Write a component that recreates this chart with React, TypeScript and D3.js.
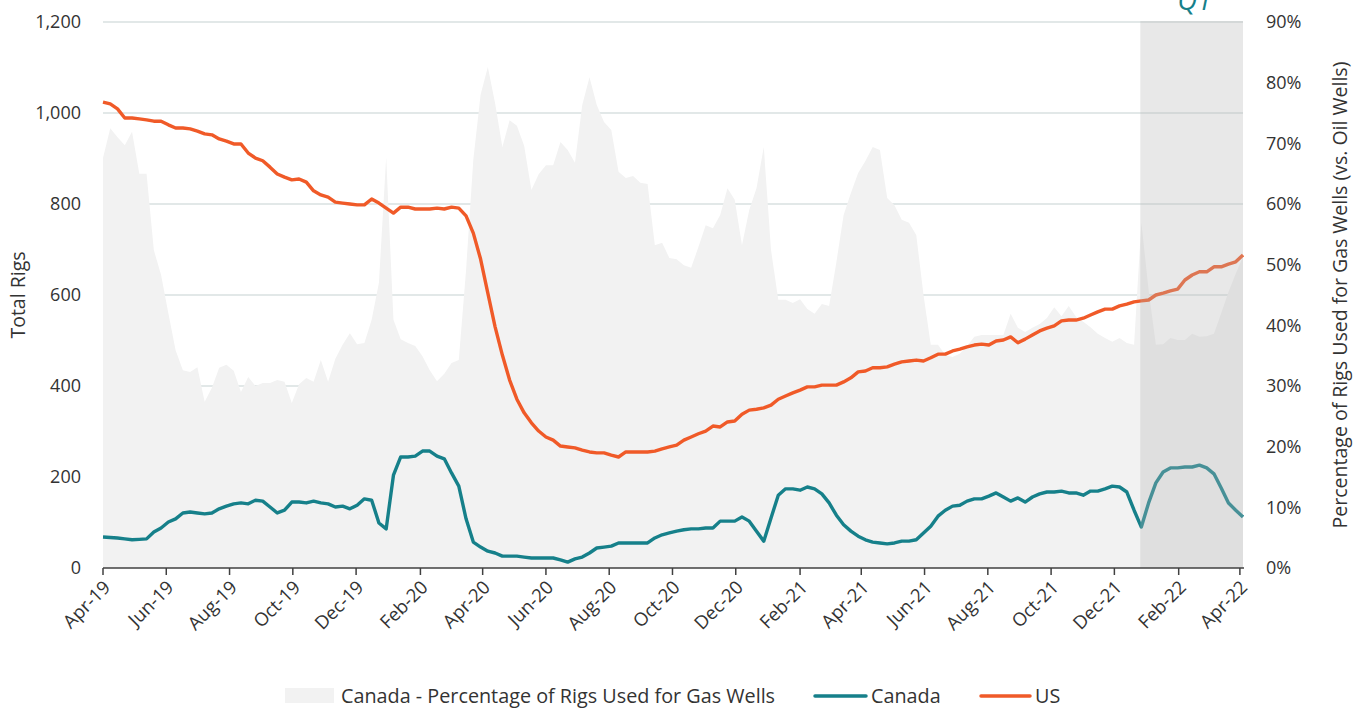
import React from "react";
import * as d3 from "d3";

const START_DATE = "2019-04-01";

const usRigs = [
  1024, 1020, 1009, 989, 989, 987, 985, 982, 982, 974, 967, 967, 965, 960, 954, 952, 943, 938, 932, 932,
  912, 901, 895, 881, 866, 859, 853, 855, 848, 829, 820, 815, 804, 802, 800, 798, 798, 811, 802, 791,
  780, 793, 793, 789, 789, 789, 791, 789, 793, 791, 774, 736, 679, 604, 530, 468, 413, 371, 341, 319,
  301, 288, 281, 268, 266, 264, 259, 255, 253, 253, 248, 244, 255, 255, 255, 255, 257, 262, 266, 270,
  281, 288, 295, 301, 312, 310, 321, 323, 338, 347, 349, 352, 358, 371, 378, 385, 391, 398, 398, 402,
  402, 402, 409, 418, 431, 433, 440, 440, 442, 448, 453, 455, 457, 455, 462, 470, 470, 477, 481, 486,
  490, 492, 490, 499, 501, 508, 495, 503, 512, 521, 527, 532, 543, 545, 545, 549, 556, 563, 569, 569,
  576, 580, 585, 587, 589, 600, 604, 609, 613, 633, 644, 651, 651, 662, 662, 668, 673, 688,
];

const canadaRigs = [
  68, 67, 66, 64, 62, 63, 64, 79, 88, 101, 108, 121, 123, 121, 119, 121, 130, 136, 141, 143,
  141, 149, 147, 134, 121, 127, 145, 145, 143, 147, 143, 141, 134, 136, 130, 138, 152, 149, 99, 86,
  204, 244, 244, 246, 257, 257, 246, 240, 209, 180, 108, 57, 46, 37, 33, 26, 26, 26, 24, 22,
  22, 22, 22, 18, 13, 20, 24, 33, 44, 46, 48, 55, 55, 55, 55, 55, 66, 73, 77, 81,
  84, 86, 86, 88, 88, 103, 103, 103, 112, 103, 81, 59, 110, 160, 174, 174, 171, 178, 174, 163,
  143, 116, 95, 81, 70, 62, 57, 55, 53, 55, 59, 59, 62, 77, 92, 114, 127, 136, 138, 147,
  152, 152, 158, 165, 156, 147, 154, 145, 156, 163, 167, 167, 169, 165, 165, 160, 169, 169, 174, 180,
  178, 167, 127, 90, 143, 187, 211, 220, 220, 222, 222, 226, 220, 207, 176, 143, 127, 112,
];

const canadaGasPct = [
  67.6, 72.5, 71.0, 69.7, 71.9, 65.0, 65.0, 52.4, 48.3, 42.0, 35.9, 32.6, 32.3, 33.1, 27.4, 29.7, 33.0, 33.5, 32.5, 29.0,
  31.5, 30.0, 30.5, 30.5, 31.0, 30.7, 27.2, 30.3, 31.3, 30.7, 34.3, 30.7, 34.5, 36.8, 38.7, 36.9, 37.1, 40.9, 47.0, 67.7,
  40.9, 37.7, 37.1, 36.6, 34.9, 32.6, 30.8, 32.0, 33.8, 34.3, 49.1, 67.3, 78.0, 82.6, 76.6, 69.4, 73.8, 72.9, 69.6, 62.3,
  64.9, 66.4, 66.4, 70.2, 68.9, 66.8, 76.3, 80.9, 76.3, 73.5, 72.2, 65.3, 64.3, 64.6, 63.5, 63.3, 53.2, 53.6, 51.1, 50.9,
  49.9, 49.5, 52.9, 56.5, 56.0, 58.2, 62.6, 60.7, 53.2, 59.0, 62.6, 69.4, 52.4, 44.2, 44.2, 43.7, 44.3, 42.7, 41.9, 43.5,
  43.2, 50.4, 58.2, 61.8, 65.1, 67.1, 69.4, 68.9, 61.0, 59.8, 57.4, 56.9, 54.9, 45.0, 36.8, 36.8, 35.1, 34.8, 35.3, 36.6,
  38.1, 38.4, 38.4, 38.4, 38.4, 41.9, 39.6, 38.9, 39.6, 40.2, 41.2, 43.0, 41.5, 43.2, 41.4, 40.6, 39.7, 38.6, 37.9, 37.3,
  37.9, 37.1, 36.8, 56.9, 45.8, 36.8, 36.9, 37.9, 37.6, 37.6, 38.6, 38.1, 38.2, 38.6, 42.0, 45.5, 48.5, 51.3,
];

const leftTicks = [0, 200, 400, 600, 800, 1000, 1200];
const rightTicks = [0, 10, 20, 30, 40, 50, 60, 70, 80, 90];
const shadeStart = "2021-12-26";
const shadeLabel = "Q1";

const FONT = "'Open Sans', 'Noto Sans', sans-serif";
const ORANGE = "#F05A28";
const TEAL = "#16808A";
const AREA = "#F2F2F2";
const TEXT = "#333333";

export default function App() {
  const W = 1360;
  const H = 711;
  const left = 103;
  const right = 1243;
  const top = 22;
  const bottom = 568;

  const parse = d3.timeParse("%Y-%m-%d");
  const start = parse(START_DATE) as Date;
  const dates = usRigs.map((_, i) => d3.timeDay.offset(start, i * 7));
  const last = dates[dates.length - 1];
  const x = d3.scaleTime().domain([dates[0], last]).range([left, right]);
  const yL = d3.scaleLinear().domain([0, 1200]).range([bottom, top]);
  const yR = d3.scaleLinear().domain([0, 90]).range([bottom, top]);

  const area = d3
    .area<number>()
    .x((_, i) => x(dates[i]))
    .y0(bottom)
    .y1((d) => yR(d));
  const line = d3
    .line<number>()
    .x((_, i) => x(dates[i]))
    .y((d) => yL(d));

  const xTicks = d3.timeMonth.range(start, d3.timeDay.offset(last, 1), 2);
  const fmt = d3.timeFormat("%b-%y");
  const shadeX = x(parse(shadeStart) as Date);

  return (
    <svg width={W} height={H} style={{ position: "absolute", left: 0, top: 0, background: "#fff" }} fontFamily={FONT}>
      {leftTicks.slice(1).map((t) => (
        <line key={"g" + t} x1={left} x2={right} y1={yL(t)} y2={yL(t)} stroke="#D8E0E0" strokeWidth={1.6} />
      ))}
      <path d={area(canadaGasPct) || ""} fill={AREA} />
      <path d={line(canadaRigs) || ""} fill="none" stroke={TEAL} strokeWidth={3.4} strokeLinejoin="round" />
      <path d={line(usRigs) || ""} fill="none" stroke={ORANGE} strokeWidth={3.4} strokeLinejoin="round" />
      <rect x={shadeX} y={top - 1} width={right - shadeX} height={bottom - top + 1} fill="rgb(180,180,180)" fillOpacity={0.31} />
      <text x={(shadeX + right) / 2 + 3} y={10} textAnchor="middle" fontSize={27} fontStyle="italic" fill={TEAL}>
        {shadeLabel}
      </text>

      <line x1={left} x2={right + 1} y1={bottom} y2={bottom} stroke="#404040" strokeWidth={1.5} />
      {xTicks.map((d, i) => (
        <g key={"x" + i}>
          <line x1={x(d)} x2={x(d)} y1={bottom} y2={bottom + 7} stroke="#404040" strokeWidth={1.5} />
          <text
            transform={`translate(${x(d) + 4},${bottom + 16}) rotate(-45)`}
            textAnchor="end"
            fontSize={18.5}
            fill={TEXT}
            dy="0.35em"
          >
            {fmt(d)}
          </text>
        </g>
      ))}
      {leftTicks.map((t) => (
        <text key={"l" + t} x={81} y={yL(t)} dy="0.35em" textAnchor="end" fontSize={18} fill={TEXT}>
          {d3.format(",")(t)}
        </text>
      ))}
      {rightTicks.map((t) => (
        <text key={"r" + t} x={1266} y={yR(t)} dy="0.35em" textAnchor="start" fontSize={18} fill={TEXT}>
          {t + "%"}
        </text>
      ))}
      <text transform={`translate(25,${(top + bottom) / 2}) rotate(-90)`} textAnchor="middle" fontSize={19.5} fill={TEXT}>
        Total Rigs
      </text>
      <text transform={`translate(1347,${(top + bottom) / 2}) rotate(-90)`} textAnchor="middle" fontSize={19.5} fill={TEXT}>
        Percentage of Rigs Used for Gas Wells (vs. Oil Wells)
      </text>

      <g fontSize={19.8} fill={TEXT}>
        <rect x={285} y={688} width={49} height={15} fill={AREA} />
        <text x={341} y={696} dy="0.35em">Canada - Percentage of Rigs Used for Gas Wells</text>
        <line x1={815} x2={866} y1={696} y2={696} stroke={TEAL} strokeWidth={3.5} strokeLinecap="round" />
        <text x={871} y={696} dy="0.35em">Canada</text>
        <line x1={981} x2={1030} y1={696} y2={696} stroke={ORANGE} strokeWidth={3.5} strokeLinecap="round" />
        <text x={1035} y={696} dy="0.35em">US</text>
      </g>
    </svg>
  );
}
